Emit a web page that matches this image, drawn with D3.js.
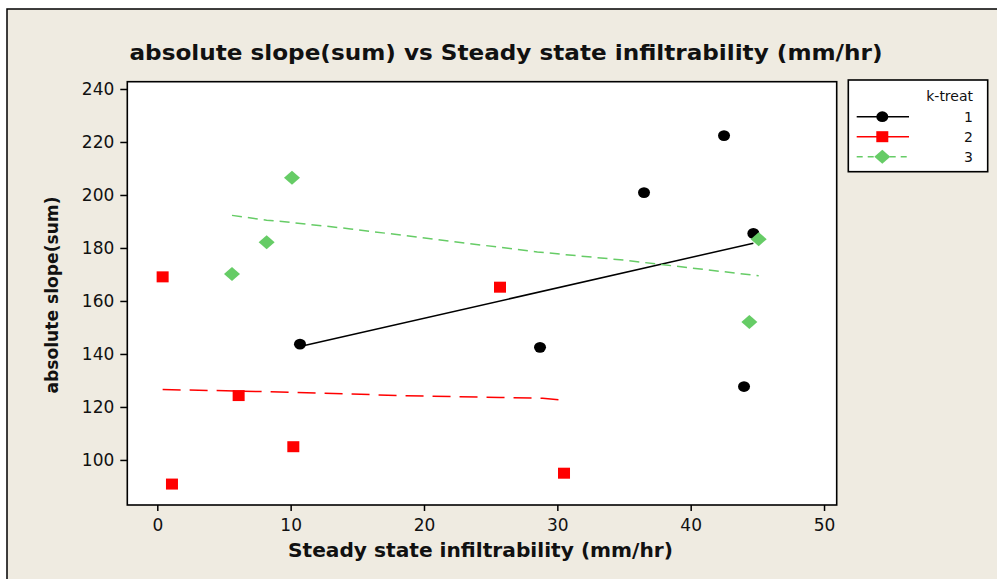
<!DOCTYPE html>
<meta charset="utf-8">
<html>
<head>
    <title>absolute slope vs infiltrability</title>
    <script src="https://cdn.jsdelivr.net/npm/d3@7"></script>
    <style>
        body { margin:0; background:#fff; }
        text { font-family:"DejaVu Sans", Verdana, sans-serif; }
    </style>
</head>
<body>
<div id="chart"></div>
<script type="text/javascript">
    /* data */
    var groups = ["1", "2", "3"];
    var x_ticks = [0, 10, 20, 30, 40, 50];
    var y_ticks = [100, 120, 140, 160, 180, 200, 220, 240];

    var treat1_x = [10.7, 28.7, 36.5, 42.5, 44.0, 44.7];
    var treat1_y = [143.7, 142.5, 200.9, 222.4, 127.7, 185.5];
    var treat2_x = [0.4, 1.1, 6.1, 10.2, 25.7, 30.5];
    var treat2_y = [169.1, 90.9, 124.3, 105.0, 165.2, 95.0];
    var treat3_x = [5.6, 8.2, 10.1, 44.4, 45.1];
    var treat3_y = [170.2, 182.2, 206.5, 152.1, 183.3];

    /* fitted lines */
    var fit1_x = [10.7, 44.7];
    var fit1_y = [142.8, 181.8];
    var fit2_x = [0.4, 1.1, 6.1, 10.2, 14.0, 18.0, 25.7, 28.9, 30.5];
    var fit2_y = [126.6, 126.5, 126.0, 125.5, 125.0, 124.3, 123.6, 123.3, 122.5];
    var fit3_x = [5.6, 8.2, 10.1, 14.5, 28.5, 35.0, 45.1];
    var fit3_y = [192.3, 190.5, 189.6, 187.2, 178.5, 175.4, 169.5];

    /* layout */
    var totalWidth = 997, totalHeight = 579,
        plot = {left:127.3, right:836.7, top:81.7, bottom:505},
        colors = {"1":"#000000", "2":"#ff0000", "3":"#66cc66"},
        dashes = {"1":null, "2":"18,9", "3":"10,6"};

    var svg = d3.select("#chart").append("svg")
        .attr("width", totalWidth)
        .attr("height", totalHeight);

    /* beige frame */
    svg.append("rect")
        .attr("x", 7).attr("y", 9)
        .attr("width", totalWidth + 10).attr("height", totalHeight + 10)
        .style("fill", "#efebe1")
        .style("stroke", "#000")
        .style("stroke-width", 1.5);

    var x_scale = d3.scaleLinear().domain([-2.25, 50.95]).range([plot.left, plot.right]);
    var y_scale = d3.scaleLinear().domain([83.0, 242.75]).range([plot.bottom, plot.top]);

    svg.append("rect")
        .attr("x", plot.left).attr("y", plot.top)
        .attr("width", plot.right - plot.left)
        .attr("height", plot.bottom - plot.top)
        .style("fill", "#fff")
        .style("stroke", "#000")
        .style("stroke-width", 1.6);

    /* axes */
    var y_axis = d3.axisLeft(y_scale).tickValues(y_ticks).tickSize(7).tickPadding(6).tickSizeOuter(0);
    var x_axis = d3.axisBottom(x_scale).tickValues(x_ticks).tickSize(6).tickPadding(8).tickSizeOuter(0);

    var gy = svg.append("g").attr("transform", "translate(" + plot.left + ",0)").call(y_axis);
    var gx = svg.append("g").attr("transform", "translate(0," + plot.bottom + ")").call(x_axis);
    [gx, gy].forEach(function(g){
        g.select(".domain").remove();
        g.selectAll("line").style("stroke", "#000").style("stroke-width", 1.5);
        g.selectAll("text").style("font-size", "17px").style("fill", "#111")
            .style("font-family", "'DejaVu Sans', Verdana, sans-serif");
    });

    /* titles */
    svg.append("text")
        .attr("x", 506).attr("y", 60)
        .attr("text-anchor", "middle")
        .attr("textLength", 753).attr("lengthAdjust", "spacingAndGlyphs")
        .style("font-size", "21px").style("font-weight", "bold").style("fill", "#111")
        .text("absolute slope(sum) vs Steady state infiltrability (mm/hr)");

    svg.append("text")
        .attr("x", 480.5).attr("y", 557)
        .attr("text-anchor", "middle")
        .attr("textLength", 385).attr("lengthAdjust", "spacingAndGlyphs")
        .style("font-size", "19px").style("font-weight", "bold").style("fill", "#111")
        .text("Steady state infiltrability (mm/hr)");

    svg.append("text")
        .attr("transform", "translate(58,295) rotate(-90)")
        .attr("text-anchor", "middle")
        .attr("textLength", 197).attr("lengthAdjust", "spacingAndGlyphs")
        .style("font-size", "18px").style("font-weight", "bold").style("fill", "#111")
        .text("absolute slope(sum)");

    /* build series */
    function zip(xs, ys){ return xs.map(function(x, i){ return {x:x, y:ys[i]}; }); }
    var points = {"1":zip(treat1_x, treat1_y), "2":zip(treat2_x, treat2_y), "3":zip(treat3_x, treat3_y)};
    var fits = {"1":zip(fit1_x, fit1_y), "2":zip(fit2_x, fit2_y), "3":zip(fit3_x, fit3_y)};

    var line = d3.line()
        .x(function(d){ return x_scale(d.x); })
        .y(function(d){ return y_scale(d.y); });

    /* marker shapes */
    function marker(sel, k){
        if (k == "1") {
            sel.append("ellipse").attr("rx", 6).attr("ry", 5.4).style("fill", colors[k]);
        } else if (k == "2") {
            sel.append("rect").attr("x", -6).attr("y", -5.5).attr("width", 12).attr("height", 11).style("fill", colors[k]);
        } else {
            sel.append("path").attr("d", "M-8,0L0,-7L8,0L0,7Z").style("fill", colors[k]);
        }
    }

    groups.forEach(function(k){
        svg.append("path")
            .datum(fits[k])
            .attr("d", line)
            .style("fill", "none")
            .style("stroke", colors[k])
            .style("stroke-width", 1.5)
            .style("stroke-dasharray", dashes[k]);
    });

    groups.forEach(function(k){
        svg.append("g").selectAll("g")
            .data(points[k])
            .enter().append("g")
            .attr("transform", function(d){ return "translate(" + x_scale(d.x) + "," + y_scale(d.y) + ")"; })
            .each(function(){ marker(d3.select(this), k); });
    });

    /* legend */
    var legend = svg.append("g");
    legend.append("rect")
        .attr("x", 848.3).attr("y", 80)
        .attr("width", 139.4).attr("height", 91.7)
        .style("fill", "#fff").style("stroke", "#000").style("stroke-width", 1.6);
    legend.append("text")
        .attr("x", 973).attr("y", 101)
        .attr("text-anchor", "end")
        .style("font-size", "14px").style("fill", "#111")
        .text("k-treat");

    var rows = legend.selectAll(".row")
        .data(groups)
        .enter().append("g")
        .attr("transform", function(d, i){ return "translate(0," + (116.7 + i * 20) + ")"; });
    rows.append("line")
        .attr("x1", 856.7).attr("x2", 909)
        .style("stroke", function(d){ return colors[d]; })
        .style("stroke-width", 1.5)
        .style("stroke-dasharray", function(d){ return d == "3" ? "6,5" : null; });
    rows.append("g")
        .attr("transform", "translate(882.3,0)")
        .each(function(d){ marker(d3.select(this), d); });
    rows.append("text")
        .attr("x", 973).attr("y", 5)
        .attr("text-anchor", "end")
        .style("font-size", "14px").style("fill", "#111")
        .text(function(d){ return d; });
</script>
</body>
</html>
